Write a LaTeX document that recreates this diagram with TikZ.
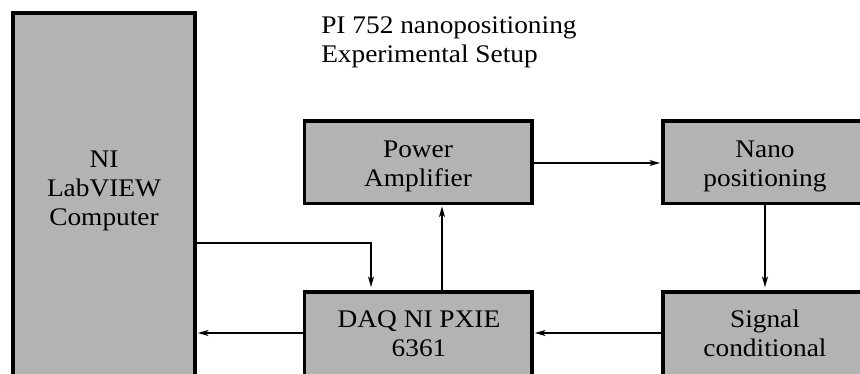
\documentclass[tikz,border=0pt]{standalone}
\usepackage{fontspec}
\setmainfont{Liberation Serif}[FakeStretch=1.08]
\usetikzlibrary{arrows.meta,fit}
\definecolor{boxgray}{RGB}{179,179,179}
\begin{document}
\begin{tikzpicture}[x=0.75pt,y=-0.75pt,
  blk/.style={draw=black,line width=2.3pt,fill=boxgray,inner sep=0pt,rectangle},
  lbl/.style={font=\fontsize{19}{21.75}\selectfont,align=center,inner sep=0pt,text=black},
  ttl/.style={font=\fontsize{19}{21.75}\selectfont,inner sep=0pt,anchor=base west,text=black},
  arr/.style={line width=1pt,-{Stealth[length=8pt,width=4.5pt,inset=2pt]},shorten >=1pt}]
\useasboundingbox (0,0) rectangle (860,374);
\clip (0,0) rectangle (860,374);
% boxes
\node[blk,fit={(13,13) (195,420)}] (comp) {};
\node[blk,fit={(304.5,121) (532,203.5)}] (power) {};
\node[blk,fit={(663,121) (880,203.5)}] (nano) {};
\node[blk,fit={(304.5,292) (532,420)}] (daq) {};
\node[blk,fit={(663,292) (880,420)}] (sig) {};
% labels
\node[lbl] (compt) at (104,191) {NI\\LabVIEW\\Computer};
\node[lbl] (powert) at (418,166) {Power\\Amplifier};
\node[lbl] (nanot) at (765,166) {Nano\\positioning};
\node[lbl] (daqt) at (419,334) {DAQ NI PXIE\\6361};
\node[lbl] (sigt) at (765,333.5) {Signal\\conditional};
\node[ttl] (title1) at (321,34) {PI 752 nanopositioning};
\node[ttl] (title2) at (321,63) {Experimental Setup};
% helper coordinates
\coordinate (yA) at (0,243);
\coordinate (yB) at (0,333);
\coordinate (yC) at (0,163);
\coordinate (xA) at (371,0);
\coordinate (xB) at (442,0);
\coordinate (xC) at (765,0);
% connectors
\draw[arr,shorten >=2.5pt] (comp.east |- yA) -| (daq.north -| xA);
\draw[arr] (daq.west |- yB) -- (comp.east |- yB);
\draw[arr] (daq.north -| xB) -- (power.south -| xB);
\draw[arr] (power.east |- yC) -- (nano.west |- yC);
\draw[arr,shorten >=2.5pt] (nano.south -| xC) -- (sig.north -| xC);
\draw[arr] (sig.west |- yB) -- (daq.east |- yB);
\end{tikzpicture}
\end{document}
